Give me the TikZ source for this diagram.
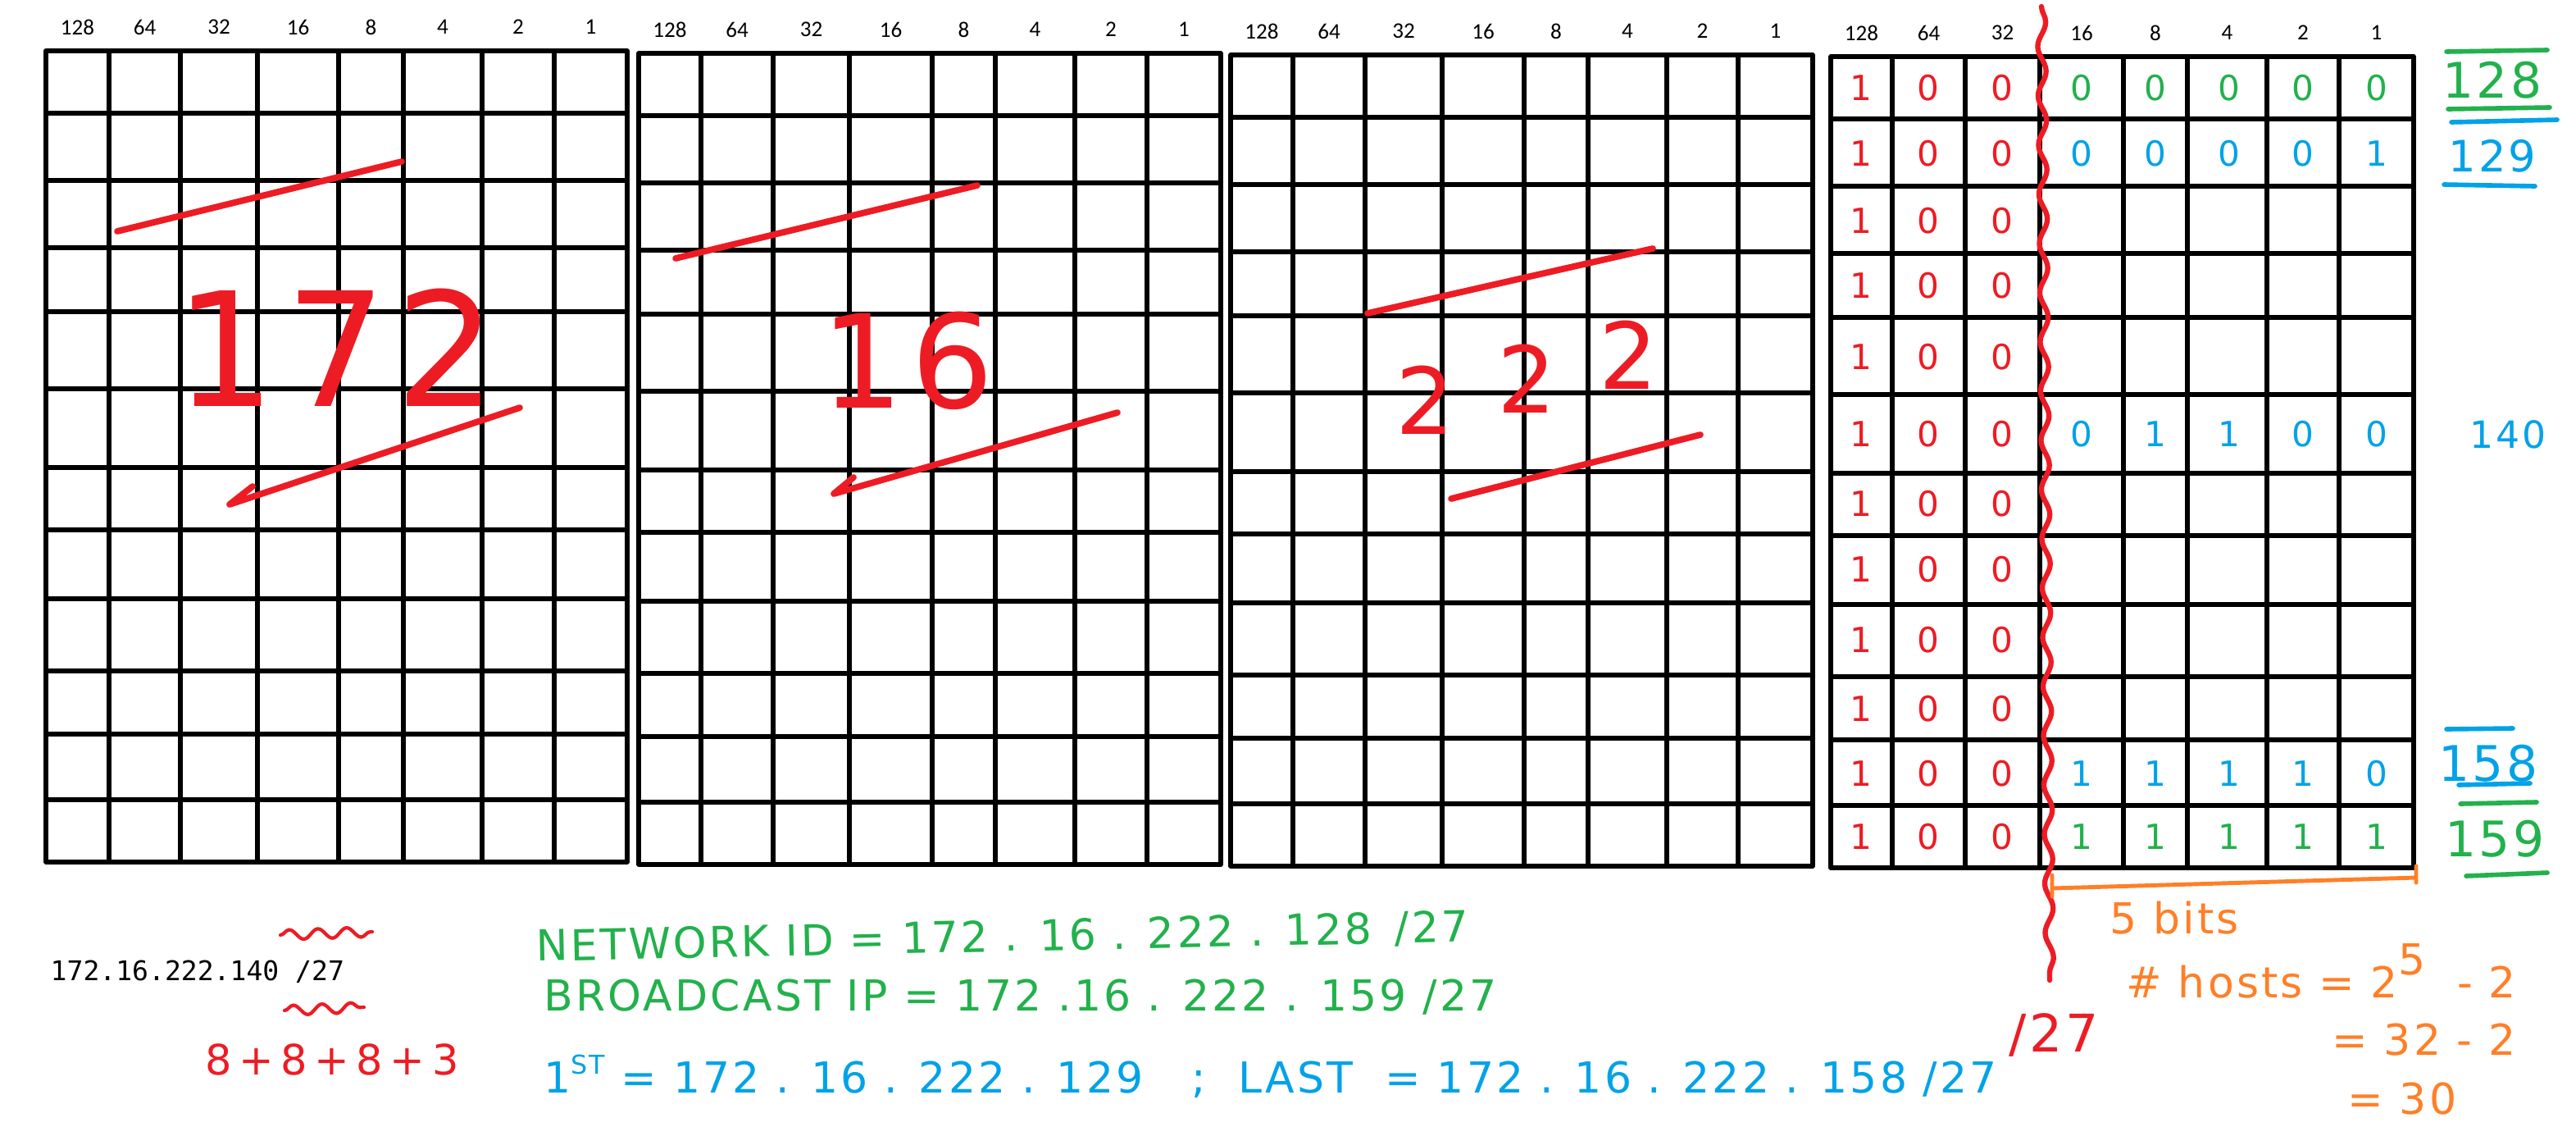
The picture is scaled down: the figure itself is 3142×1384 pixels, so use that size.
\documentclass[tikz,border=0pt]{standalone}
\usepackage{fontspec}
\setmainfont{Carlito}
\newfontfamily\handfont[LetterSpace=6]{DejaVu Sans}
\newfontfamily\consfont{DejaVu Sans Mono}
\usetikzlibrary{decorations.pathmorphing}

\definecolor{penred}{HTML}{ED1C24}
\definecolor{pengreen}{HTML}{22B14C}
\definecolor{penblue}{HTML}{00A2E8}
\definecolor{penorange}{HTML}{FF7F27}

\begin{document}
\begin{tikzpicture}[
            x = 0.01cm, y = -0.01cm, % one unit is one pixel, y runs down
            line cap = round,
            gridline/.style = {line width = 1.5pt},
            bitlabel/.style = {font = \fontsize{7.7}{8}\selectfont, inner sep = 0pt},
            hand/.style = {font = \handfont\fontsize{#1}{#1}\selectfont, inner sep = 0pt},
            pen/.style = {line width = 2.2pt, line join = round},
            wavy/.style = {decorate, decoration = {snake, amplitude = 0.05cm, segment length = 0.6cm}}
        ]

        \tikzstyle{markline}=[line width = 1.6pt]

        \useasboundingbox (0,0) rectangle (3142,1384);

        % the four octet tables
        \foreach \g/\dy/\xl/\xr/\cols in {
            1/0/56/765/{56,133,220,314,413,492,588,676,765},
            2/3/779/1489/{779,855,943,1036,1137,1214,1311,1399,1489},
            3/5/1501/2211/{1501,1577,1665,1759,1859,1937,2033,2120,2211},
            4/7/2233/2944/{2233,2308,2397,2488,2590,2668,2765,2853,2944}} {
            \foreach \c [count=\i, remember=\c as \cp (initially 0)] in \cols {
                \draw[gridline] (\c,62+\dy) -- (\c,1051+\dy);
                \ifnum\i>1
                    \pgfmathtruncatemacro\v{2^(9-\i)}
                    \node[bitlabel] (lab\g-\v) at ({(\cp+\c)/2},33+\dy) {\v};
                \fi
            }
            \foreach \r in {62,138,220,302,380,474,570,646,730,818,895,975,1051}
                \draw[gridline] (\xl,\r+\dy) -- (\xr,\r+\dy);
        }

        % octets written over the first three tables
        \node[hand=55, text=penred] (oct1) at (410,424) {172};
        \node[hand=45, text=penred] (oct2) at (1107,440) {16};
        \node[hand=32, text=penred] (oct3a) at (1738,488) {2};
        \node[hand=32, text=penred] (oct3b) at (1862,462) {2};
        \node[hand=32, text=penred] (oct3c) at (1986,433) {2};
        \draw[pen, penred] (143,282) -- (490,197);
        \draw[pen, penred] (634,497) -- (280,615) -- (308,593);
        \draw[pen, penred] (824,315) -- (1192,226);
        \draw[pen, penred] (1363,503) -- (1017,602) -- (1041,582);
        \draw[pen, penred] (1668,382) -- (2016,303);
        \draw[pen, penred] (1770,608) -- (2074,530);

        % bits of the last octet
        \foreach \y [count=\r] in {107,187,269,348,435,529,614,694,780,864,943,1020}
            \foreach \x/\b [count=\k] in {2270/1,2352/0,2442/0}
                \node[hand=12, text=penred] (net\r-\k) at (\x,\y) {\b};
        \foreach \y/\bits/\col in {107/{0,0,0,0,0}/pengreen, 187/{0,0,0,0,1}/penblue,
                529/{0,1,1,0,0}/penblue, 943/{1,1,1,1,0}/penblue, 1020/{1,1,1,1,1}/pengreen}
            \foreach \b [count=\k] in \bits
                \node[hand=12, text=\col] (host\y-\k) at ({2539+90*(\k-1)},\y) {\b};

        % the /27 cut
        \coordinate (cut top) at (2490,8);
        \coordinate (cut end) at (2500,1195);
        \draw[penred, line width = 1.8pt, wavy] (cut top) -- (cut end);

        % values on the right
        \node[hand=17, text=pengreen] (id128) at (3040,98) {128};
        \draw[markline, pengreen] (2984,63) -- (3107,61);
        \draw[markline, pengreen] (2986,133) -- (3110,131);
        \node[hand=15, text=penblue] (id129) at (3040,190) {129};
        \draw[markline, penblue] (2990,149) -- (3119,146);
        \draw[markline, penblue] (2981,225) -- (3092,227);
        \node[hand=13, text=penblue] (id140) at (3059,530) {140};
        \node[hand=17, text=penblue] (id158) at (3035,931) {158};
        \draw[markline, penblue] (2984,889) -- (3065,888);
        \draw[markline, penblue] (2999,957) -- (3086,955);
        \node[hand=17, text=pengreen] (id159) at (3043,1023) {159};
        \draw[markline, pengreen] (3001,980) -- (3094,978);
        \draw[markline, pengreen] (3008,1068) -- (3107,1064);

        % host bits span
        \coordinate (span l) at (2503,1083);
        \coordinate (span r) at (2947,1070);
        \draw[penorange, line width = 1.4pt] (2503,1067) -- (2503,1093) (span l) -- (span r) (2947,1056) -- (2947,1076);

        % working below the tables
        \node[font = \consfont\fontsize{9.4}{10}\selectfont, inner sep = 0pt, anchor = west] (ipaddr) at (61,1185) {172.16.222.140 /27};
        \draw[penred, line width = 1.2pt, decorate, decoration = {snake, amplitude = 0.06cm, segment length = 0.35cm}] (342,1140) -- (454,1136);
        \draw[penred, line width = 1.2pt, decorate, decoration = {snake, amplitude = 0.06cm, segment length = 0.35cm}] (347,1232) -- (444,1228);
        \node[hand=14.5, text=penred] (sum) at (405,1292) {8\,+\,8\,+\,8\,+\,3};

        \node[hand=14.8, text=pengreen, anchor=west, rotate=1.2] (netid) at (653,1155) {NETWORK ID = 172 . 16 . 222 . 128 \,/27};
        \node[hand=14.8, text=pengreen, anchor=west] (bcast) at (663,1216) {BROADCAST IP = 172 .16 . 222 . 159 /27};
        \node[hand=14.8, text=penblue, anchor=west] (range) at (663,1312) {1\raisebox{0.45em}{\fontsize{9}{9}\selectfont ST} = 172 . 16 . 222 . 129 ~~;~ LAST ~= 172 . 16 . 222 . 158 /27};
        \node[hand=18, text=penred] (mask) at (2505,1262) {/27};

        \node[hand=14.8, text=penorange, anchor=west] (bits5) at (2573,1119) {5 bits};
        \node[hand=14.8, text=penorange, anchor=west] (hosts) at (2593,1184) {\# hosts = 2\raisebox{0.55em}{5} ~- 2};
        \node[hand=14.8, text=penorange, anchor=west] (eq32) at (2844,1268) {= 32 - 2};
        \node[hand=14.8, text=penorange, anchor=west] (eq30) at (2863,1340) {= 30};
    \end{tikzpicture}
\end{document}
